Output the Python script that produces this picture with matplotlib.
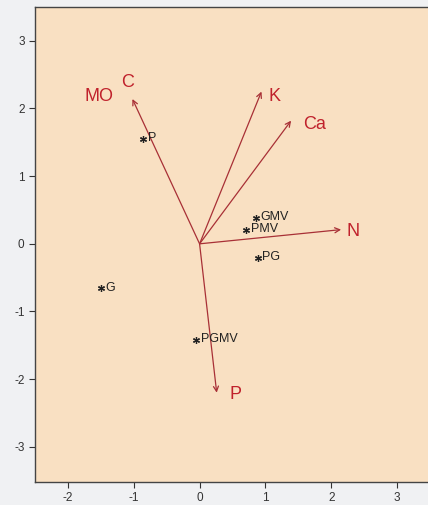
import matplotlib
matplotlib.use('Agg')
import matplotlib.pyplot as plt

plt.rcParams['font.family'] = ['Liberation Sans', 'DejaVu Sans']
plt.rcParams['axes.unicode_minus'] = False

# Variables (arrows) of the biplot
var_names = ['C', 'K', 'Ca', 'N', 'P']
var_x = [-1.02, 0.94, 1.39, 2.15, 0.26]
var_y = [2.14, 2.25, 1.82, 0.21, -2.20]
# label positions of the variables
lab_x = [-1.09, 1.14, 1.74, 2.33, 0.55]
lab_y = [2.38, 2.17, 1.76, 0.18, -2.22]
# extra label sharing the C arrow
extra_label = 'MO'
extra_xy = (-1.53, 2.17)

# Observations (points)
obs_names = ['P', 'GMV', 'PMV', 'PG', 'G', 'PGMV']
obs_x = [-0.86, 0.85, 0.71, 0.88, -1.50, -0.05]
obs_y = [1.55, 0.38, 0.21, -0.21, -0.66, -1.42]

xticks = [-2, -1, 0, 1, 2, 3]
yticks = [-3, -2, -1, 0, 1, 2, 3]

arrow_col = '#a83036'
label_col = '#c0222c'

fig = plt.figure(figsize=(4.28, 5.05), dpi=100, facecolor='#f0f1f3')
ax = fig.add_axes([35 / 428, 23 / 505, 395 / 428, 475 / 505])
ax.set_facecolor('#f9e0c2')

for name, x, y, lx, ly in zip(var_names, var_x, var_y, lab_x, lab_y):
    ax.annotate('', xy=(x, y), xytext=(0, 0),
                arrowprops=dict(arrowstyle='->', color=arrow_col, lw=0.9,
                                shrinkA=0, shrinkB=0, mutation_scale=9))
    ax.text(lx, ly, name, color=label_col, fontsize=13, ha='center', va='center')
ax.text(extra_xy[0], extra_xy[1], extra_label, color=label_col, fontsize=13,
        ha='center', va='center')

ax.plot(obs_x, obs_y, linestyle='none', marker=(6, 2, 0), markersize=5,
        color='#222222', markeredgewidth=0.9)
for name, x, y in zip(obs_names, obs_x, obs_y):
    ax.text(x + 0.07, y + 0.01, name, fontsize=9, color='#222222',
            ha='left', va='center')

ax.set_xlim(-2.5, 3.5)
ax.set_ylim(-3.52, 3.5)
ax.set_xticks(xticks)
ax.set_yticks(yticks)
ax.tick_params(labelsize=8.5, colors='#333333', length=4, width=0.8)
for side in ['left', 'bottom', 'top', 'right']:
    ax.spines[side].set_color('#444444')
    ax.spines[side].set_linewidth(1.0)

plt.savefig('out.png', dpi=100, facecolor=fig.get_facecolor())
plt.close()
